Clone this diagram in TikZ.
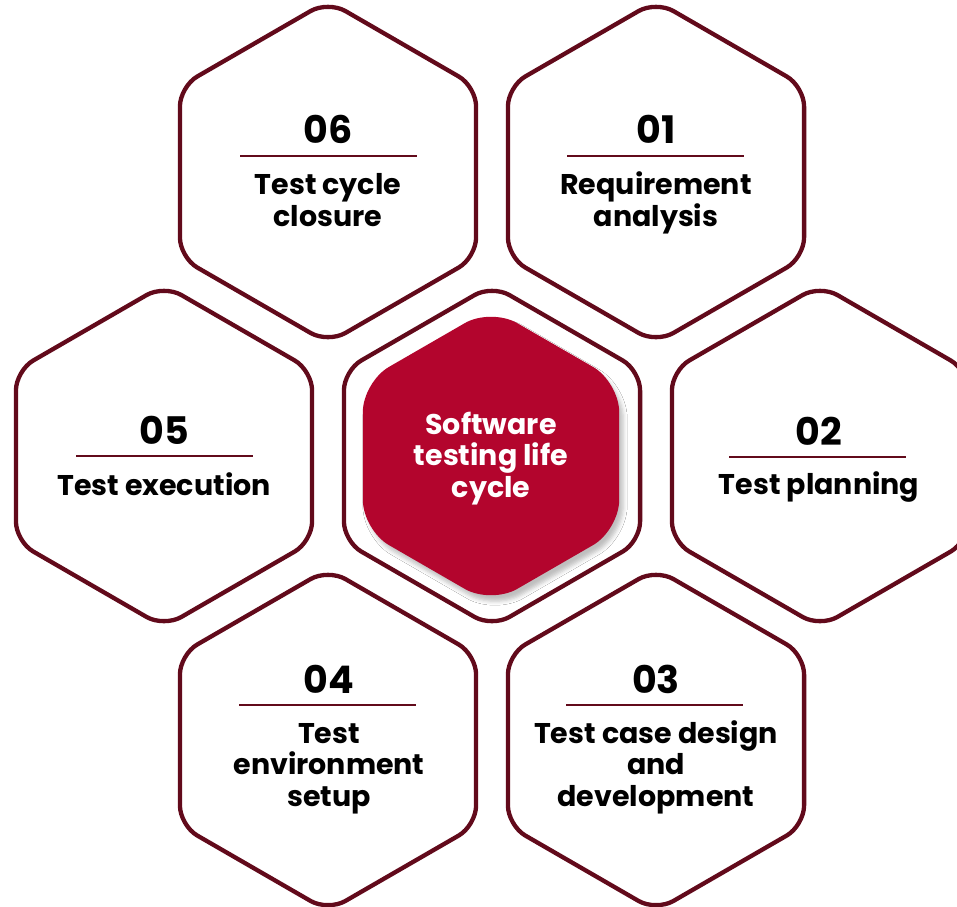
\documentclass[tikz,border=0pt]{standalone}
\usepackage{fontspec}
\setmainfont{Poppins}
\usetikzlibrary{shapes.geometric,shadows.blur}
\definecolor{hexline}{HTML}{620A1B}
\definecolor{hexfill}{HTML}{B3052D}
\tikzset{
  hexo/.style={regular polygon, regular polygon sides=6, regular polygon rotate=30,
    minimum size=342pt, inner sep=0pt, draw=hexline, line width=4.3pt, rounded corners=20pt},
  hexc/.style={regular polygon, regular polygon sides=6, regular polygon rotate=30,
    minimum size=296pt, inner sep=0pt, fill=hexfill, rounded corners=30pt,
    blur shadow={shadow xshift=4pt, shadow yshift=-6pt, shadow blur radius=4pt, shadow opacity=25}},
  num/.style={font=\fontsize{38}{38}\selectfont\bfseries, anchor=base, inner sep=0pt},
  lab/.style={font=\fontsize{28.5}{31.5}\selectfont\bfseries, anchor=base, align=center, inner sep=0pt},
  clab/.style={lab, text=white},
  rule/.style={draw=hexline, line width=2pt},
}
\begin{document}
\begin{tikzpicture}[x=1pt,y=-1pt]
\useasboundingbox[fill=white] (0,0) rectangle (957,906);
% outline hexagons
\node[hexo] (h6) at (328,172) {};
\node[hexo] (h1) at (656,172) {};
\node[hexo] (h5) at (164,456) {};
\node[hexo] (hc) at (492,456) {};
\node[hexo] (h2) at (820,456) {};
\node[hexo] (h4) at (328,740) {};
\node[hexo] (h3) at (656,740) {};
% centre filled hexagon
\node[hexc] (core) at (491,456) {};
% 06
\node[num] (n6) at (328,143) {06};
\coordinate (r6a) at (240,156); \coordinate (r6b) at (417,156);
\draw[rule] (r6a) -- (r6b);
\node[lab] (t6) at (328,226) {Test cycle\\closure};
% 01
\node[num] (n1) at (656,143) {01};
\coordinate (r1a) at (567,156); \coordinate (r1b) at (744,156);
\draw[rule] (r1a) -- (r1b);
\node[lab] (t1) at (656,226) {Requirement\\analysis};
% 05
\node[num] (n5) at (164,444) {05};
\coordinate (r5a) at (76,456); \coordinate (r5b) at (253,456);
\draw[rule] (r5a) -- (r5b);
\node[lab] (t5) at (164,495) {Test execution};
% 02
\node[num] (n2) at (819,445) {02};
\coordinate (r2a) at (729,457); \coordinate (r2b) at (906,457);
\draw[rule] (r2a) -- (r2b);
\node[lab] (t2) at (819,494) {Test planning};
% 04
\node[num] (n4) at (329,693) {04};
\coordinate (r4a) at (239,705); \coordinate (r4b) at (416,705);
\draw[rule] (r4a) -- (r4b);
\node[lab] (t4) at (329,806) {Test\\environment\\setup};
% 03
\node[num] (n3) at (656,693) {03};
\coordinate (r3a) at (566,705); \coordinate (r3b) at (743,705);
\draw[rule] (r3a) -- (r3b);
\node[lab] (t3) at (656,806) {Test case design\\and\\development};
% centre text
\node[clab] (tc) at (491,497) {Software\\testing life\\cycle};
\end{tikzpicture}
\end{document}
